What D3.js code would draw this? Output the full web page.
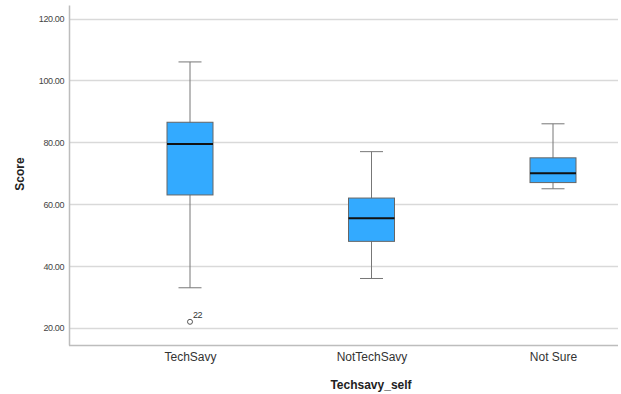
<!DOCTYPE html>
<html>
<head>
<meta charset="utf-8">
<script src="https://cdn.jsdelivr.net/npm/d3@7"></script>
<style>
  body { margin: 0; background: #fff; }
  svg { font-family: "Liberation Sans", Arial, sans-serif; }
</style>
</head>
<body>
<div id="chart"></div>
<script>
var categories = ["TechSavy", "NotTechSavy", "Not Sure"];
var whiskerLow = [33, 36, 65];
var q1 = [63, 48, 67];
var median = [79.5, 55.5, 70];
var q3 = [86.5, 62, 75];
var whiskerHigh = [106, 77, 86];
var outliers = [{cat: "TechSavy", value: 22, label: "22"}];
var yTicks = [20, 40, 60, 80, 100, 120];

var width = 621, height = 394;
var plotLeft = 69, plotRight = 618, plotTop = 5, plotBottom = 345;

var svg = d3.select("#chart").append("svg")
    .attr("width", width).attr("height", height);

var y = d3.scaleLinear().domain([14.5, 124.4]).range([plotBottom, plotTop]);
var x = d3.scalePoint().domain(categories).range([190, 553]);

var boxes = categories.map(function(c, i){
    return {cat: c, lo: whiskerLow[i], q1: q1[i], med: median[i], q3: q3[i], hi: whiskerHigh[i]};
});

// grid
svg.selectAll(".grid").data(yTicks).enter().append("line")
    .attr("x1", plotLeft).attr("x2", plotRight)
    .attr("y1", function(d){ return Math.round(y(d)) + 0.5; })
    .attr("y2", function(d){ return Math.round(y(d)) + 0.5; })
    .attr("stroke", "#d9d9d9").attr("stroke-width", 1.5);

// y axis
var yAxis = svg.append("g").attr("transform", "translate(" + plotLeft + ",0)")
    .call(d3.axisLeft(y).tickValues(yTicks).tickSize(0).tickPadding(5)
        .tickFormat(function(d){ return d3.format(".2f")(d); }));
yAxis.select(".domain").attr("stroke", "#bdbdbd").attr("stroke-width", 1.5);
yAxis.selectAll("text").attr("font-size", "9px").attr("fill", "#444")
    .attr("letter-spacing", "-0.4px");

// x axis
var xAxis = svg.append("g").attr("transform", "translate(0," + plotBottom + ")")
    .call(d3.axisBottom(x).tickSize(0).tickPadding(7));
xAxis.select(".domain").attr("d", "M" + plotLeft + ",0.5H" + plotRight)
    .attr("stroke", "#bdbdbd").attr("stroke-width", 1.5);
xAxis.selectAll("text").attr("font-size", "12px").attr("fill", "#333");

var boxW = 46, capW = 23;

// whiskers + boxes
var g = svg.selectAll(".box").data(boxes).enter().append("g");
g.append("line")
    .attr("x1", function(d){ return x(d.cat); }).attr("x2", function(d){ return x(d.cat); })
    .attr("y1", function(d){ return y(d.hi); }).attr("y2", function(d){ return y(d.lo); })
    .attr("stroke", "#777").attr("stroke-width", 1);
g.append("line")
    .attr("x1", function(d){ return x(d.cat) - capW / 2; }).attr("x2", function(d){ return x(d.cat) + capW / 2; })
    .attr("y1", function(d){ return y(d.hi); }).attr("y2", function(d){ return y(d.hi); })
    .attr("stroke", "#777").attr("stroke-width", 1);
g.append("line")
    .attr("x1", function(d){ return x(d.cat) - capW / 2; }).attr("x2", function(d){ return x(d.cat) + capW / 2; })
    .attr("y1", function(d){ return y(d.lo); }).attr("y2", function(d){ return y(d.lo); })
    .attr("stroke", "#777").attr("stroke-width", 1);
g.append("rect")
    .attr("x", function(d){ return x(d.cat) - boxW / 2; })
    .attr("y", function(d){ return y(d.q3); })
    .attr("width", boxW)
    .attr("height", function(d){ return y(d.q1) - y(d.q3); })
    .attr("fill", "#33aaff").attr("stroke", "#666").attr("stroke-width", 1);
g.append("line")
    .attr("x1", function(d){ return x(d.cat) - boxW / 2; }).attr("x2", function(d){ return x(d.cat) + boxW / 2; })
    .attr("y1", function(d){ return y(d.med); }).attr("y2", function(d){ return y(d.med); })
    .attr("stroke", "#111").attr("stroke-width", 2);

// outliers
svg.selectAll(".out").data(outliers).enter().append("circle")
    .attr("cx", function(d){ return x(d.cat); }).attr("cy", function(d){ return y(d.value); })
    .attr("r", 2.5).attr("fill", "#fff").attr("stroke", "#555").attr("stroke-width", 1);
svg.selectAll(".outlabel").data(outliers).enter().append("text")
    .attr("x", function(d){ return x(d.cat) + 3; }).attr("y", function(d){ return y(d.value) - 4; })
    .attr("font-size", "9px").attr("fill", "#333").attr("letter-spacing", "-0.4px")
    .text(function(d){ return d.label; });

// axis titles
svg.append("text")
    .attr("transform", "translate(24,174) rotate(-90)")
    .attr("text-anchor", "middle")
    .attr("font-size", "12px").attr("font-weight", "bold").attr("fill", "#222")
    .text("Score");
svg.append("text")
    .attr("x", 371).attr("y", 389)
    .attr("text-anchor", "middle")
    .attr("font-size", "12px").attr("font-weight", "bold").attr("fill", "#222")
    .text("Techsavy_self");
</script>
</body>
</html>
